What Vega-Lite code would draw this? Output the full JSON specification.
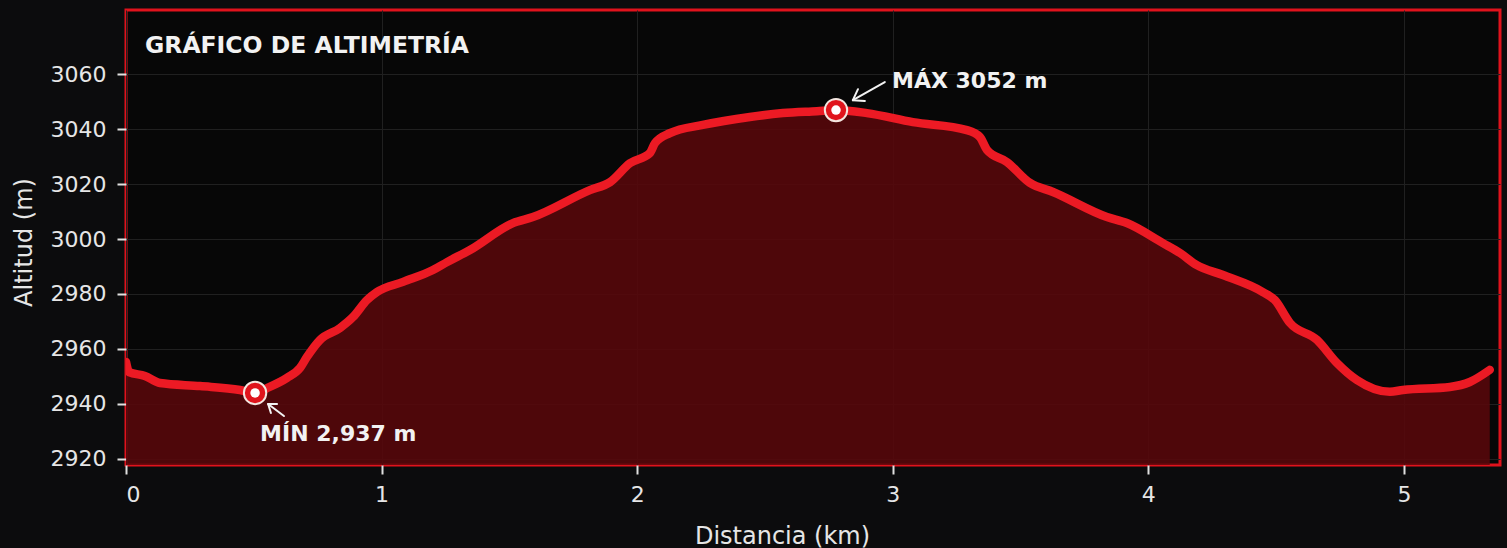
{
  "$schema": "https://vega.github.io/schema/vega-lite/v6.json",
  "width": 1374,
  "height": 455,
  "autosize": {"type": "none"},
  "padding": {"left": 126, "top": 10, "right": 7, "bottom": 83},
  "background": "#0c0c0d",
  "title": {
    "text": "GRÁFICO DE ALTIMETRÍA",
    "anchor": "start",
    "frame": "group",
    "orient": "top",
    "offset": -42,
    "dx": 19,
    "dy": 24,
    "baseline": "alphabetic",
    "font": "DejaVu Sans",
    "fontSize": 23.5,
    "fontWeight": "bold",
    "color": "#f2f2f2"
  },
  "config": {
    "view": {"stroke": "#e0121c", "strokeWidth": 3, "fill": "#070707"},
    "font": "DejaVu Sans",
    "axis": {
      "labelFont": "DejaVu Sans",
      "titleFont": "DejaVu Sans",
      "labelColor": "#e6e6e6",
      "titleColor": "#e6e6e6",
      "labelFontSize": 22,
      "titleFontSize": 24,
      "titleFontWeight": "normal",
      "tickColor": "#e0e0e0",
      "tickWidth": 2,
      "domain": false,
      "grid": true,
      "gridColor": "#202020",
      "gridWidth": 1
    }
  },
  "datasets": {
    "profile": [
      {"d": 0.000, "alt": 2955.3},
      {"d": 0.012, "alt": 2951.6},
      {"d": 0.074, "alt": 2950.2},
      {"d": 0.133, "alt": 2947.6},
      {"d": 0.290, "alt": 2946.5},
      {"d": 0.446, "alt": 2945.1},
      {"d": 0.505, "alt": 2944.0},
      {"d": 0.552, "alt": 2945.8},
      {"d": 0.630, "alt": 2949.5},
      {"d": 0.681, "alt": 2953.1},
      {"d": 0.708, "alt": 2957.1},
      {"d": 0.759, "alt": 2963.3},
      {"d": 0.837, "alt": 2967.6},
      {"d": 0.888, "alt": 2971.6},
      {"d": 0.943, "alt": 2977.8},
      {"d": 0.982, "alt": 2980.7},
      {"d": 1.084, "alt": 2984.4},
      {"d": 1.201, "alt": 2988.7},
      {"d": 1.256, "alt": 2991.6},
      {"d": 1.346, "alt": 2996.0},
      {"d": 1.514, "alt": 3005.8},
      {"d": 1.592, "alt": 3008.0},
      {"d": 1.815, "alt": 3017.8},
      {"d": 1.894, "alt": 3020.7},
      {"d": 1.972, "alt": 3027.6},
      {"d": 2.050, "alt": 3031.3},
      {"d": 2.070, "alt": 3034.9},
      {"d": 2.128, "alt": 3038.5},
      {"d": 2.257, "alt": 3041.5},
      {"d": 2.441, "alt": 3044.4},
      {"d": 2.570, "alt": 3045.8},
      {"d": 2.703, "alt": 3046.5},
      {"d": 2.778, "alt": 3046.9},
      {"d": 2.899, "alt": 3045.8},
      {"d": 3.079, "alt": 3042.5},
      {"d": 3.290, "alt": 3039.6},
      {"d": 3.341, "alt": 3037.1},
      {"d": 3.369, "alt": 3032.4},
      {"d": 3.447, "alt": 3028.0},
      {"d": 3.537, "alt": 3020.4},
      {"d": 3.627, "alt": 3017.1},
      {"d": 3.838, "alt": 3008.0},
      {"d": 3.916, "alt": 3005.8},
      {"d": 4.057, "alt": 2998.5},
      {"d": 4.124, "alt": 2994.9},
      {"d": 4.190, "alt": 2990.5},
      {"d": 4.292, "alt": 2986.9},
      {"d": 4.448, "alt": 2980.7},
      {"d": 4.495, "alt": 2977.8},
      {"d": 4.554, "alt": 2969.5},
      {"d": 4.660, "alt": 2963.3},
      {"d": 4.738, "alt": 2954.9},
      {"d": 4.816, "alt": 2948.7},
      {"d": 4.945, "alt": 2944.4},
      {"d": 4.996, "alt": 2945.1},
      {"d": 5.180, "alt": 2946.2},
      {"d": 5.258, "alt": 2948.0},
      {"d": 5.336, "alt": 2952.4}
    ],
    "extremes": [
      {"d": 0.505, "alt": 2944.0, "kind": "min", "label": "MÍN 2,937 m"},
      {"d": 2.778, "alt": 3046.9, "kind": "max", "label": "MÁX 3052 m"}
    ],
    "arrows": [
      {"d": 2.969, "alt": 3057.1, "g": "maxShaft", "o": 1},
      {"d": 2.844, "alt": 3050.5, "g": "maxShaft", "o": 2},
      {"d": 2.864, "alt": 3054.5, "g": "maxHead", "o": 1},
      {"d": 2.844, "alt": 3050.5, "g": "maxHead", "o": 2},
      {"d": 2.891, "alt": 3050.2, "g": "maxHead", "o": 3},
      {"d": 0.618, "alt": 2935.6, "g": "minShaft", "o": 1},
      {"d": 0.556, "alt": 2940.0, "g": "minShaft", "o": 2},
      {"d": 0.567, "alt": 2936.7, "g": "minHead", "o": 1},
      {"d": 0.556, "alt": 2940.0, "g": "minHead", "o": 2},
      {"d": 0.591, "alt": 2940.0, "g": "minHead", "o": 3}
    ]
  },
  "encoding": {
    "x": {
      "field": "d",
      "type": "quantitative",
      "scale": {"domain": [0, 5.376], "nice": false, "zero": false},
      "axis": {
        "title": "Distancia (km)",
        "values": [0, 1, 2, 3, 4, 5],
        "tickSize": 9,
        "labelPadding": 10,
        "titleAlign": "center",
        "titleBaseline": "alphabetic",
        "titleX": 656,
        "titleY": 78
      }
    },
    "y": {
      "field": "alt",
      "type": "quantitative",
      "scale": {"domain": [2917.8, 3083.3], "nice": false, "zero": false},
      "axis": {
        "title": "Altitud (m)",
        "values": [2920, 2940, 2960, 2980, 3000, 3020, 3040, 3060],
        "format": "d",
        "tickSize": 9,
        "labelPadding": 11,
        "titleAngle": -90,
        "titleAlign": "center",
        "titleBaseline": "alphabetic",
        "titleX": -95,
        "titleY": 232
      }
    }
  },
  "layer": [
    {
      "data": {"name": "profile"},
      "mark": {"type": "area", "color": "#5a070b", "opacity": 0.85, "interpolate": "monotone", "clip": true}
    },
    {
      "data": {"name": "profile"},
      "mark": {"type": "line", "color": "#ec1a24", "strokeWidth": 8.5, "interpolate": "monotone", "strokeCap": "round", "strokeJoin": "round", "clip": true}
    },
    {
      "data": {"name": "arrows"},
      "mark": {"type": "line", "color": "#f2f2f2", "strokeWidth": 2, "strokeCap": "round", "strokeJoin": "round"},
      "encoding": {
        "detail": {"field": "g", "type": "nominal"},
        "order": {"field": "o", "type": "quantitative"}
      }
    },
    {
      "data": {"name": "extremes"},
      "mark": {"type": "point", "shape": "circle", "filled": true, "size": 500, "color": "#e0141c", "stroke": "#f4e6e0", "strokeWidth": 2, "opacity": 1}
    },
    {
      "data": {"name": "extremes"},
      "mark": {"type": "point", "shape": "circle", "filled": true, "size": 90, "color": "#ffffff", "opacity": 1}
    },
    {
      "data": {"name": "extremes"},
      "transform": [{"filter": "datum.kind == 'max'"}],
      "mark": {"type": "text", "align": "left", "baseline": "middle", "dx": 56, "dy": -29, "font": "DejaVu Sans", "fontSize": 22, "fontWeight": "bold", "color": "#f2f2f2"},
      "encoding": {"text": {"field": "label", "type": "nominal"}}
    },
    {
      "data": {"name": "extremes"},
      "transform": [{"filter": "datum.kind == 'min'"}],
      "mark": {"type": "text", "align": "left", "baseline": "middle", "dx": 5, "dy": 41, "font": "DejaVu Sans", "fontSize": 22, "fontWeight": "bold", "color": "#f2f2f2"},
      "encoding": {"text": {"field": "label", "type": "nominal"}}
    }
  ]
}
